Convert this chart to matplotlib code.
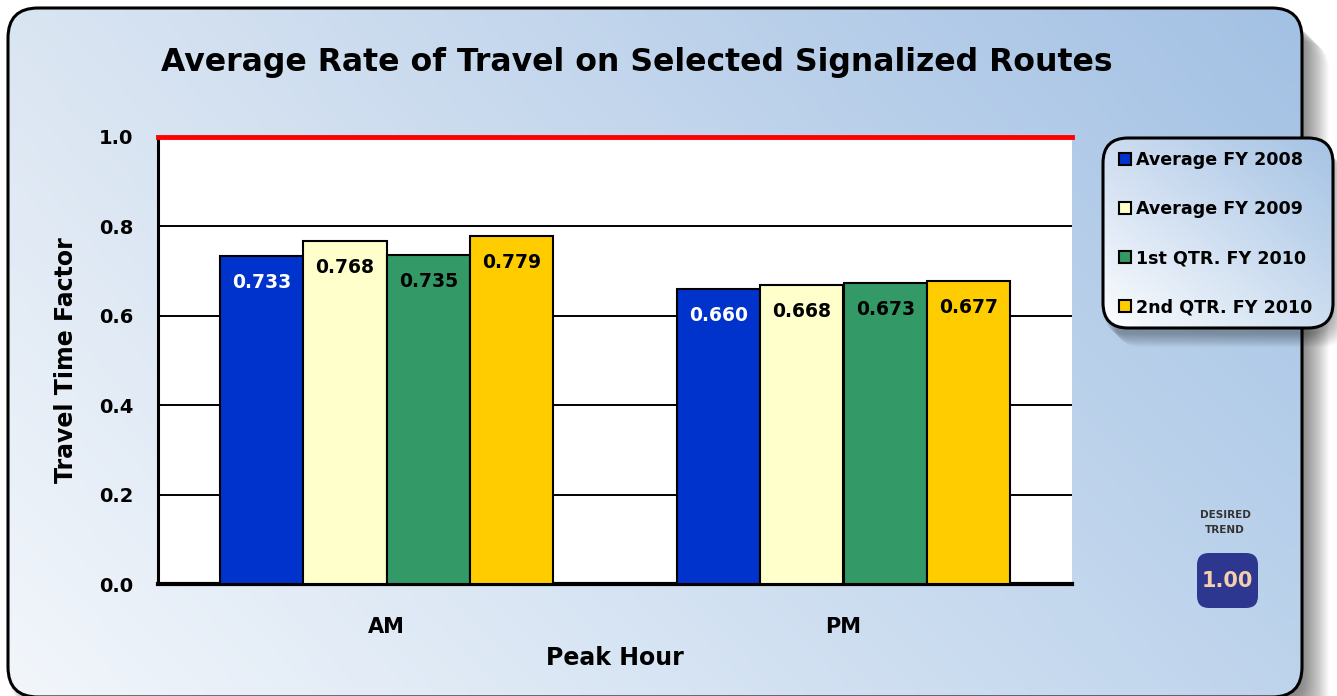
import numpy as np
import matplotlib
matplotlib.use("Agg")
import matplotlib.pyplot as plt
from matplotlib.patches import FancyBboxPatch

# chart data
periods = ["AM", "PM"]
series = ["Average FY 2008", "Average FY 2009", "1st QTR. FY 2010", "2nd QTR. FY 2010"]
fy2008 = [0.733, 0.660]
fy2009 = [0.768, 0.668]
q1_fy2010 = [0.735, 0.673]
q2_fy2010 = [0.779, 0.677]
target = 1.0
yticks = [0.0, 0.2, 0.4, 0.6, 0.8, 1.0]
desired_trend = "1.00"

bar_colors = ["#0033cc", "#ffffcc", "#339966", "#ffcc00"]
label_colors = ["white", "black", "black", "black"]

plt.rcParams['font.family'] = 'DejaVu Sans'
plt.rcParams['font.weight'] = 'bold'
plt.rcParams['axes.labelweight'] = 'bold'

W, H = 1337, 696
fig = plt.figure(figsize=(W / 100, H / 100), dpi=100)
fig.patch.set_facecolor("white")

# background layer in pixel coords (y downwards)
bg = fig.add_axes([0, 0, 1, 1], zorder=-5)
bg.axis("off")


def corner_grad(tl, tr, bl, br, n=64):
    u = np.linspace(0, 1, n)
    X, Y = np.meshgrid(u, u)
    X = X[..., None]; Y = Y[..., None]
    tl, tr, bl, br = [np.array(c) / 255.0 for c in (tl, tr, bl, br)]
    return (1 - X) * (1 - Y) * tl + X * (1 - Y) * tr + (1 - X) * Y * bl + X * Y * br


def grad_box(x0, y0, w, h, r, cols, z):
    patch = FancyBboxPatch((x0, y0), w, h, boxstyle=f"round,pad=0,rounding_size={r}",
                           facecolor="none", edgecolor="black", linewidth=2.2, zorder=z + 1)
    bg.add_patch(patch)
    im = bg.imshow(corner_grad(*cols), extent=(x0, x0 + w, y0 + h, y0),
                   aspect="auto", interpolation="bilinear", zorder=z)
    im.set_clip_path(patch)


def shadow(x0, y0, w, h, r, steps, alpha, z):
    for k in range(steps):
        bg.add_patch(FancyBboxPatch((x0 + k, y0 + k), w, h,
                                    boxstyle=f"round,pad=0,rounding_size={r}",
                                    facecolor="black", edgecolor="none",
                                    alpha=alpha, zorder=z))


# main panel
shadow(8, 14, 1294, 689, 30, 28, 0.018, 0)
grad_box(8, 8, 1294, 689, 30,
         [(218, 229, 242), (163, 193, 228), (242, 246, 251), (190, 212, 236)], 1)

# legend panel
shadow(1103, 144, 230, 190, 25, 14, 0.025, 3)
grad_box(1103, 138, 230, 190, 25,
         [(205, 220, 240), (165, 195, 228), (252, 253, 255), (205, 222, 240)], 4)

# desired trend badge
bg.text(1225, 515, "DESIRED", ha="center", va="center", fontsize=7.5, color="#333333")
bg.text(1225, 530, "TREND", ha="center", va="center", fontsize=7.5, color="#333333")
bg.add_patch(FancyBboxPatch((1197, 553), 61, 55, boxstyle="round,pad=0,rounding_size=12",
                            facecolor="#2e3790", edgecolor="none", zorder=6))
bg.text(1227.5, 581, desired_trend, ha="center", va="center", fontsize=15,
        color="#f3cfae", zorder=7)

bg.set_xlim(0, W)
bg.set_ylim(H, 0)

# title
fig.text(637 / W, 1 - 63 / H, "Average Rate of Travel on Selected Signalized Routes",
         ha="center", va="center", fontsize=22.7)

# main chart
ax = fig.add_axes([158 / W, 1 - 584 / H, (1072 - 158) / W, (584 - 137) / H])
ax.set_facecolor("white")
x = np.arange(len(periods))
w = 0.1827
values = [fy2008, fy2009, q1_fy2010, q2_fy2010]
bars = []
for i, (vals, col, lc) in enumerate(zip(values, bar_colors, label_colors)):
    b = ax.bar(x + (i - 1.5) * w, vals, w, color=col, edgecolor="black", linewidth=1.5,
               label=series[i], zorder=3)
    bars.append(b)
    for xi, v in zip(x + (i - 1.5) * w, vals):
        ax.annotate(f"{v:.3f}", (xi, v), xytext=(0, -19), textcoords="offset points",
                    ha="center", va="center", fontsize=13.5, color=lc, zorder=4)

ax.axhline(target, color="#ff0000", linewidth=3.5, zorder=5, clip_on=False)
ax.set_xlim(-0.5, 1.5)
ax.set_ylim(0, 1.0)
ax.set_yticks(yticks)
ax.set_yticklabels([f"{t:.1f}" for t in yticks])
ax.set_xticks(x)
ax.set_xticklabels(periods)
ax.yaxis.grid(True, color="black", linewidth=1.4, zorder=1)
ax.set_axisbelow(True)
ax.tick_params(axis="y", length=0, pad=18, labelsize=14)
ax.tick_params(axis="x", length=0, pad=24, labelsize=15)
for s in ["top", "right"]:
    ax.spines[s].set_visible(False)
ax.spines["left"].set_linewidth(2.2)
ax.spines["bottom"].set_linewidth(3)
ax.set_xlabel("Peak Hour", fontsize=17, labelpad=6)
ax.set_ylabel("Travel Time Factor", fontsize=17, labelpad=15)

# legend
fig.legend(handles=[b[0] for b in bars], labels=series, loc="upper left",
           bbox_to_anchor=(1103 / W, 1 - 135 / H), frameon=False, fontsize=12.6,
           handlelength=0.7, handleheight=0.7, handletextpad=0.3, labelspacing=1.78)

fig.savefig("out.png", dpi=100)
